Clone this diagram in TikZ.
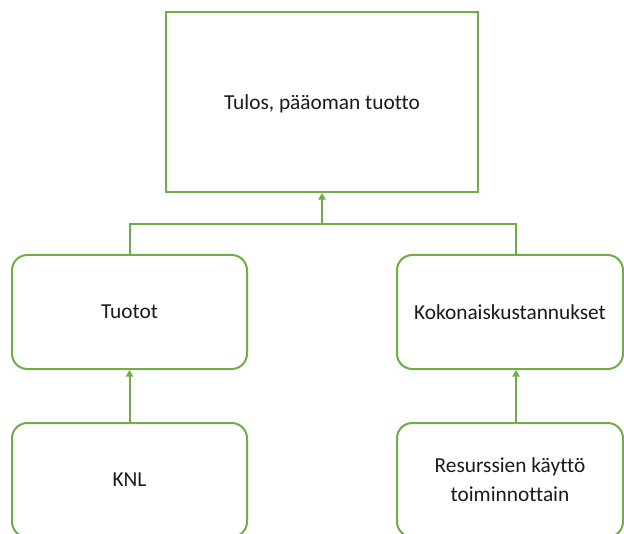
\documentclass[tikz,border=0pt]{standalone}
\usepackage{fontspec}
\setmainfont[Ligatures=NoCommon]{Carlito}
\usetikzlibrary{arrows.meta}
\definecolor{boxgreen}{HTML}{70AD47}
\definecolor{ink}{HTML}{1A1A1A}
\begin{document}
\begin{tikzpicture}[x=0.75pt,y=-0.75pt,
  every node/.style={font=\fontsize{16}{21.5}\selectfont, text=ink, align=center},
  mainbox/.style={draw=boxgreen, line width=1.5pt, fill=white, inner sep=0pt},
  roundbox/.style={mainbox, rounded corners=11.5pt},
  link/.style={draw=boxgreen, line width=1.5pt},
  uparrow/.style={link, -{Triangle[length=5pt,width=5.5pt]}}]
  \useasboundingbox (0,0) rectangle (624,534);
  \fill[white] (0,0) rectangle (624,534);
  \clip (0,0) rectangle (624,534);

  % top result box
  \node[mainbox, minimum width=234pt, minimum height=135pt, text depth=-2pt] (top) at (322,102) {Tulos, pääoman tuotto};

  % middle level
  \node[roundbox, minimum width=176.25pt, minimum height=85.5pt, text depth=-2pt] (ml) at (129.5,312) {Tuotot};
  \node[roundbox, minimum width=169.5pt, minimum height=85.5pt, text depth=-2pt] (mr) at (510,312) {Kokonaiskustannukset};

  % bottom level
  \node[roundbox, minimum width=176.25pt, minimum height=85.5pt, text depth=-2pt] (bl) at (129.5,480) {KNL};
  \node[roundbox, minimum width=169.5pt, minimum height=85.5pt] (br) at (510,480) {Resurssien käyttö\\toiminnottain};

  % joining bus and arrows
  \coordinate (bus) at (322,224);
  \coordinate (mrin) at ([xshift=4.5pt]mr.north);
  \draw[link] (ml.north) |- (bus) -| (mrin);
  \draw[uparrow] (bus) -- (top.south);
  \draw[uparrow] (bl.north) -- (ml.south);
  \draw[uparrow] ([xshift=4.5pt]br.north) -- ([xshift=4.5pt]mr.south);
\end{tikzpicture}
\end{document}
